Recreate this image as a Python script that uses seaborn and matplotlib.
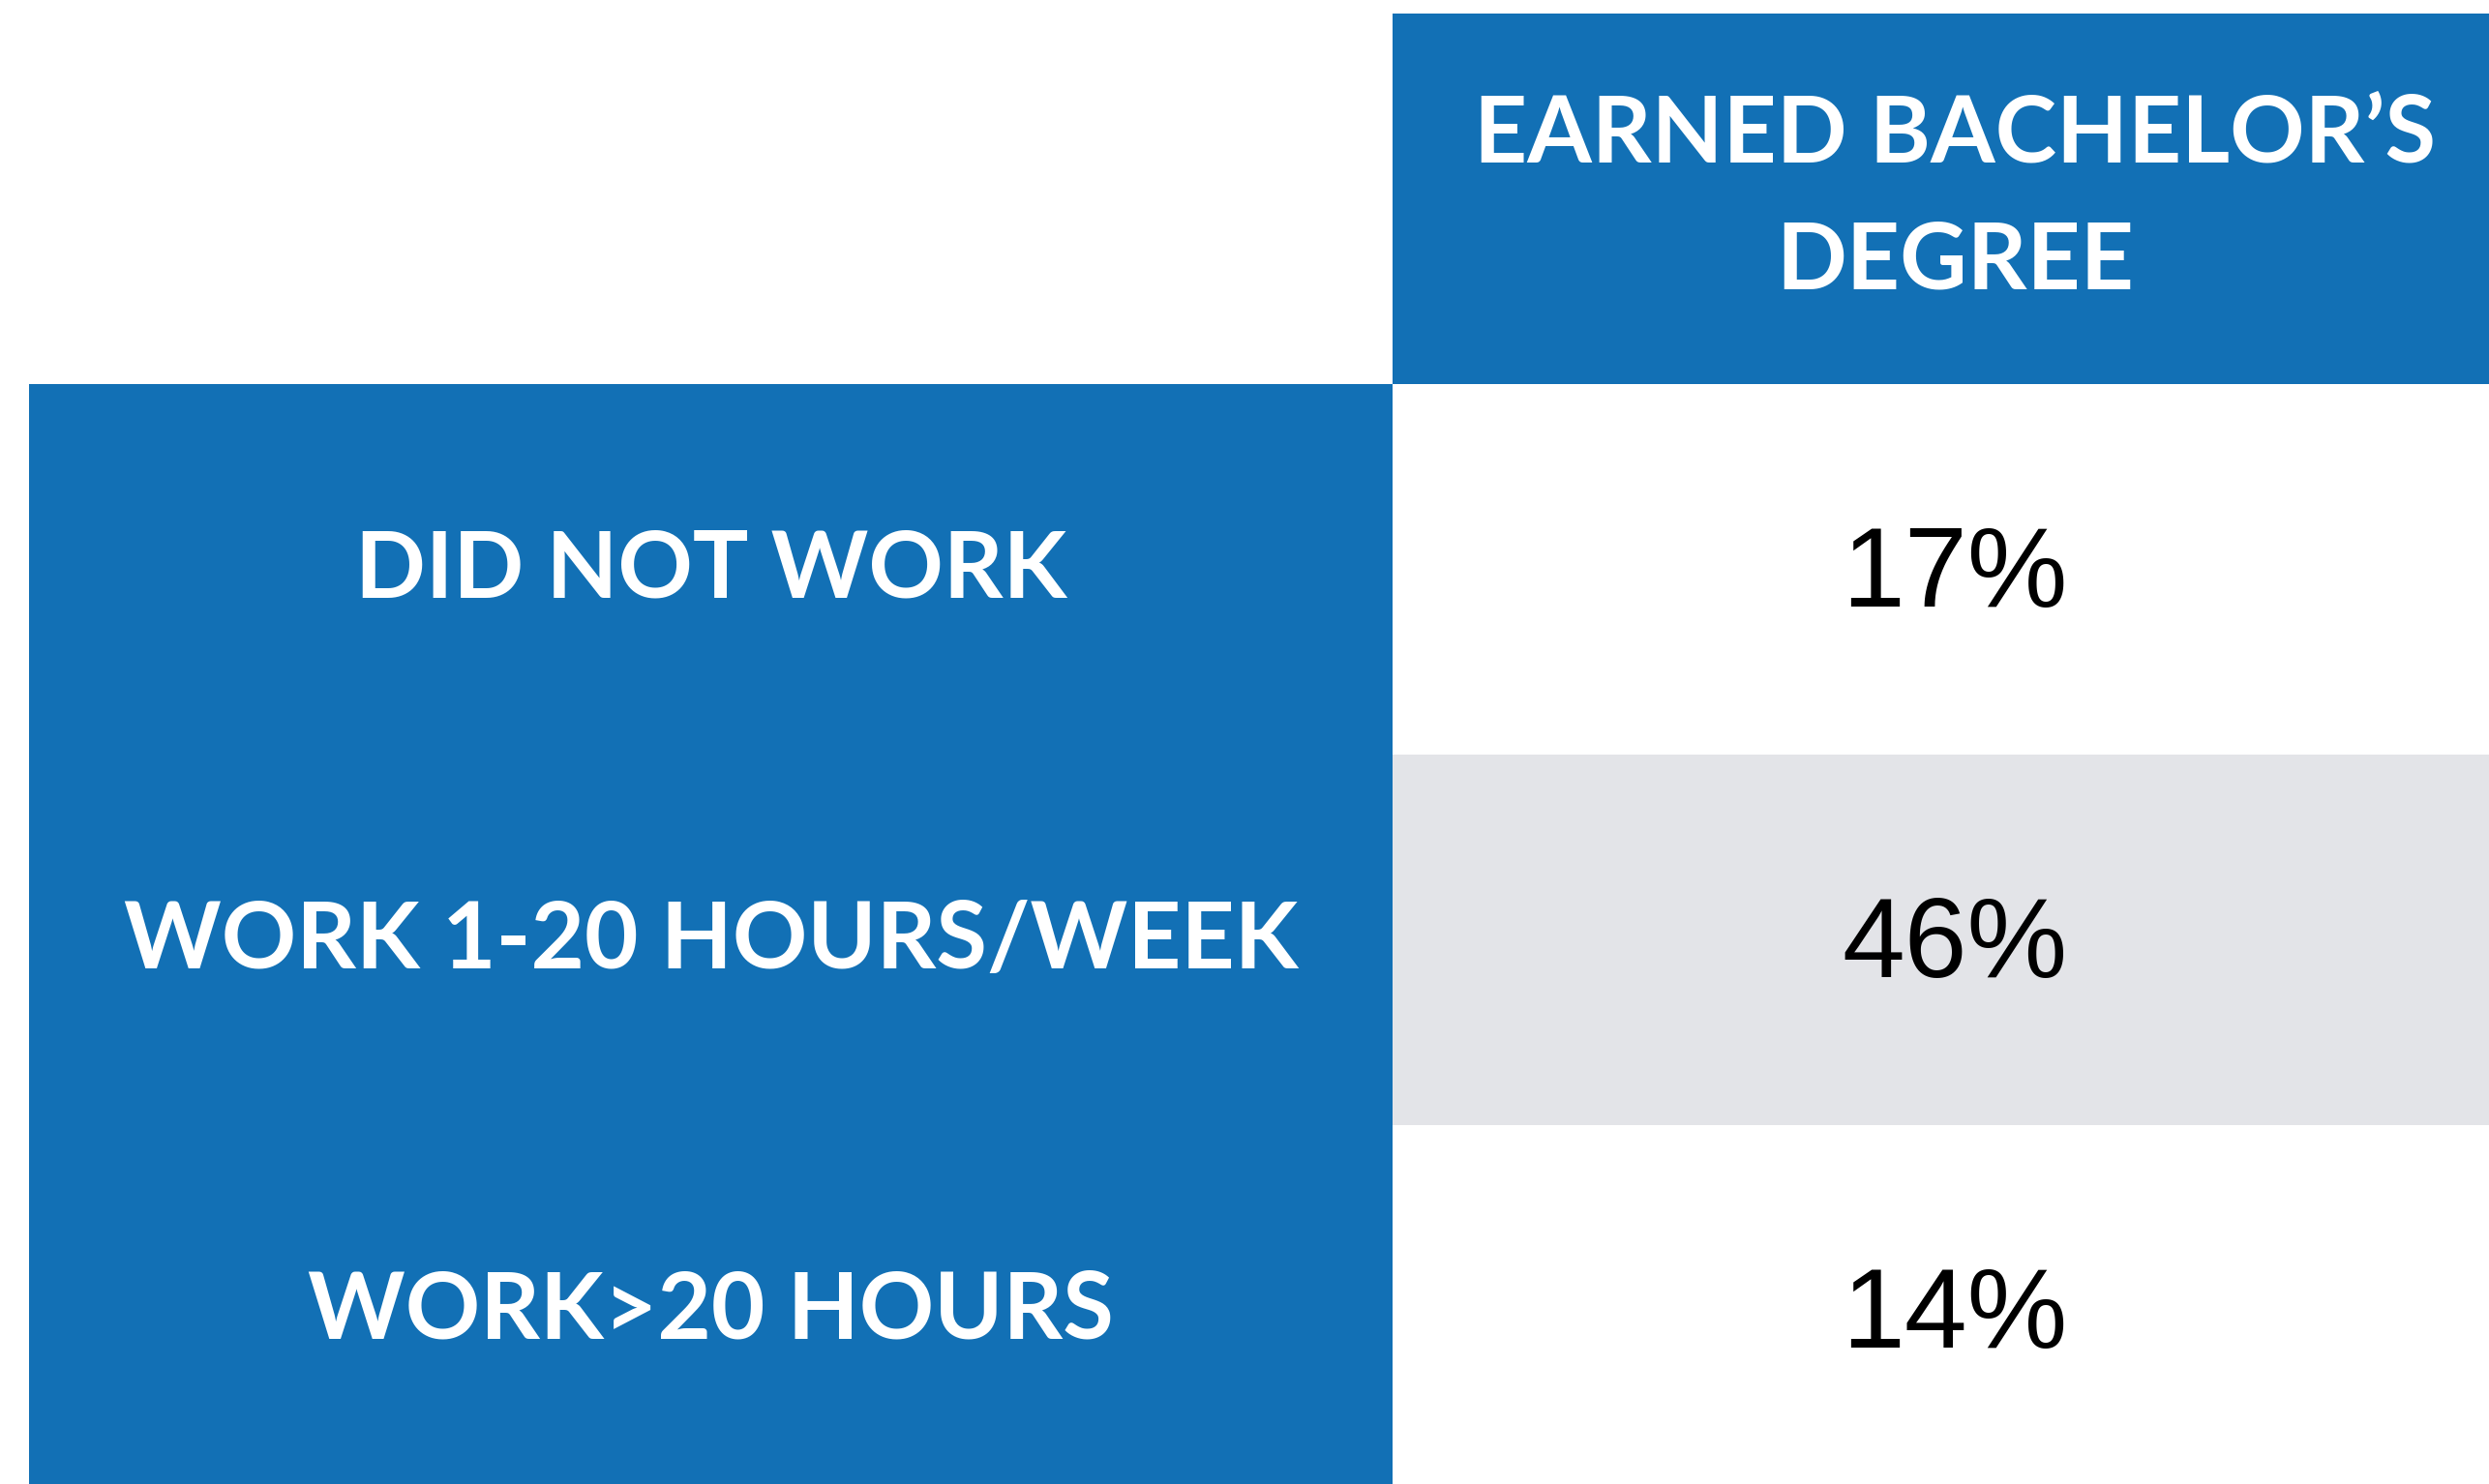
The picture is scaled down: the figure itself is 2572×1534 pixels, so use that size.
import numpy as np
import matplotlib
matplotlib.use("Agg")
import matplotlib.pyplot as plt
from matplotlib.colors import ListedColormap
import seaborn as sns

# table content
header = "EARNED BACHELOR\u2019S\nDEGREE"
row_labels = ["DID NOT WORK", "WORK 1-20 HOURS/WEEK", "WORK>20 HOURS"]
pct_values = [17, 46, 14]

blue = "#1270B5"
gray = "#E3E4E8"

W, H = 2572, 1534
fig = plt.figure(figsize=(W / 100, H / 100), dpi=100)
fig.patch.set_facecolor("white")

row_h = 383
top = 397
col_split = 1439
right_edge = 2601
left_edge = 30

# value column as a seaborn heatmap with alternating bands
ax_val = fig.add_axes([col_split / W, (H - top - 3 * row_h) / H,
                       (right_edge - col_split) / W, 3 * row_h / H])
band = np.array([[i % 2] for i in range(len(pct_values))])
annot = np.array([[f"{v}%"] for v in pct_values])
sns.heatmap(band, ax=ax_val, cmap=ListedColormap(["white", gray]), cbar=False,
            annot=annot, fmt="", xticklabels=False, yticklabels=False,
            annot_kws={"fontsize": 84, "color": "black",
                       "family": "Liberation Sans"})
for t in ax_val.texts:
    x, y = t.get_position()
    t.set_position((x, y + 0.02))
ax_val.set_axis_off()

# row label block
ax_lab = fig.add_axes([left_edge / W, (H - top - 3 * row_h) / H,
                       (col_split - left_edge) / W, 3 * row_h / H])
ax_lab.set_facecolor(blue)
ax_lab.set_xlim(0, 1)
ax_lab.set_ylim(len(row_labels), 0)
for i, lab in enumerate(row_labels):
    ax_lab.text(0.5, i + 0.505, lab, ha="center", va="center", color="white",
                fontsize=69, fontweight="bold", family="Lato")
ax_lab.set_xticks([])
ax_lab.set_yticks([])
for s in ax_lab.spines.values():
    s.set_visible(False)

# header block
ax_head = fig.add_axes([col_split / W, (H - top) / H,
                        (right_edge - col_split) / W, (top - 14) / H])
ax_head.set_facecolor(blue)
ax_head.text(0.5, 0.5, header, ha="center", va="center", color="white",
             fontsize=69, fontweight="bold", family="Lato", linespacing=1.62,
             transform=ax_head.transAxes)
ax_head.set_xticks([])
ax_head.set_yticks([])
for s in ax_head.spines.values():
    s.set_visible(False)

fig.savefig("out.png", dpi=100)
